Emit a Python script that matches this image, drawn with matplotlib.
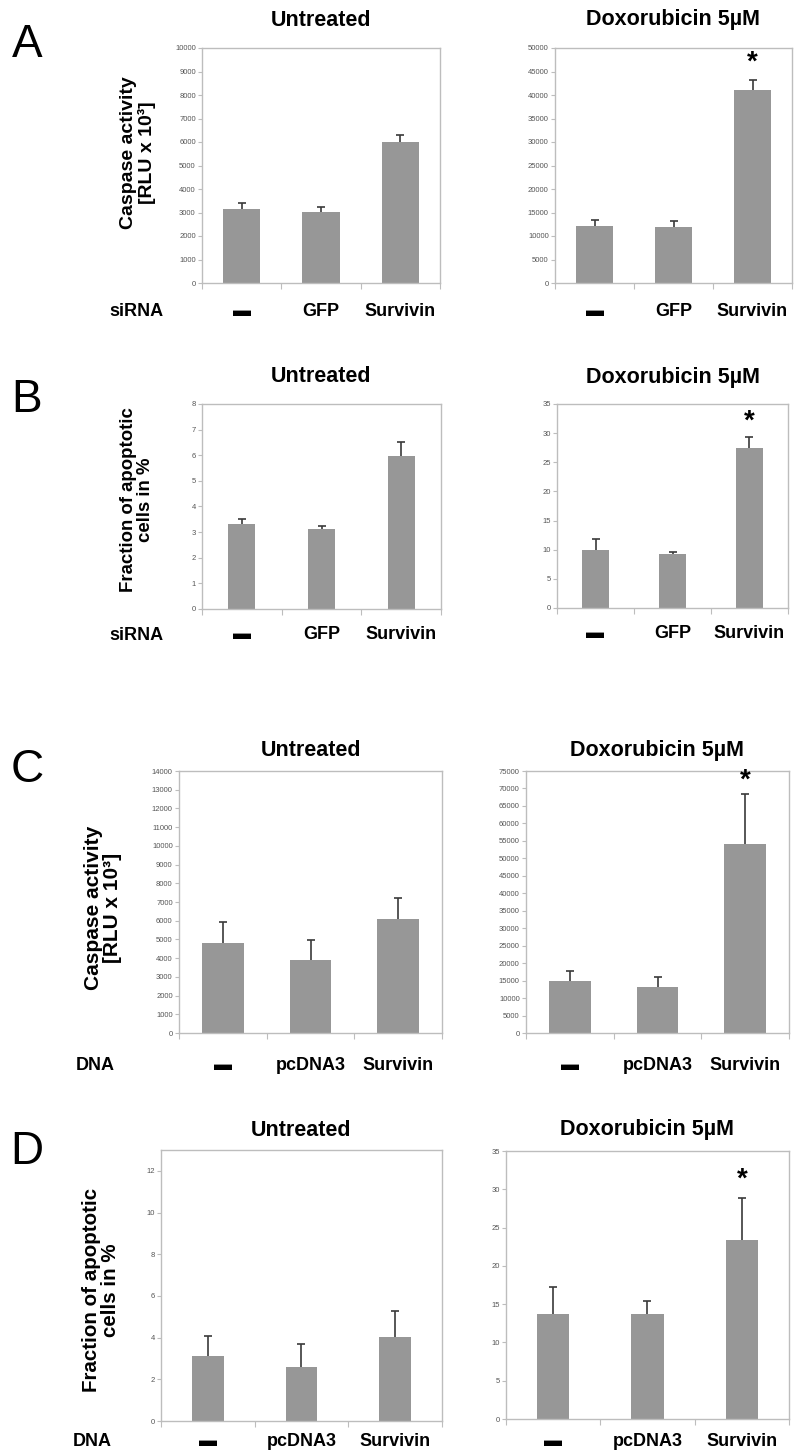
import numpy as np
import matplotlib
matplotlib.use("Agg")
import matplotlib.pyplot as plt
from matplotlib.transforms import ScaledTranslation

plt.rcParams['font.family'] = ['Liberation Sans', 'DejaVu Sans']

W, H = 807, 1454
DPI = 100

# data
sirna_labels = ['▬', 'GFP', 'Survivin']
dna_labels = ['▬', 'pcDNA3', 'Survivin']

a_untr = [3170, 3010, 5990]
a_untr_err = [215, 230, 295]
a_doxo = [12050, 11950, 40990]
a_doxo_err = [1400, 1150, 2260]

b_untr = [3.32, 3.14, 5.99]
b_untr_err = [0.20, 0.08, 0.54]
b_doxo = [9.9, 9.35, 27.4]
b_doxo_err = [2.0, 0.25, 2.0]

c_untr = [4800, 3900, 6070]
c_untr_err = [1150, 1080, 1120]
c_doxo = [14750, 13300, 54150]
c_doxo_err = [3050, 2600, 14350]

d_untr = [3.1, 2.6, 4.05]
d_untr_err = [1.0, 1.1, 1.25]
d_doxo = [13.7, 13.7, 23.4]
d_doxo_err = [3.5, 1.65, 5.5]

# star heights (significance markers)
a_star = 46800
b_star = 32
c_star = 72300
d_star = 31.2

BAR = '#979797'
SPINE = '#bdbdbd'
TICKC = '#555555'

fig = plt.figure(figsize=(W / DPI, H / DPI), dpi=DPI)


def px_axes(l, t, r, b):
    return fig.add_axes([l / W, 1 - b / H, (r - l) / W, (b - t) / H])


def ftext(x, y, s, **kw):
    fig.text(x / W, 1 - y / H, s, **kw)


def panel(box, vals, err, ymax, step, ylim, labels, width, title,
          lab_off, title_off, star=None):
    ax = px_axes(*box)
    x = np.arange(len(vals))
    ax.bar(x, vals, width=width, color=BAR, zorder=2)
    eb = ax.errorbar(x, vals, yerr=[np.zeros(len(err)), err], fmt='none',
                     ecolor='#3a3a3a', elinewidth=1.2, capsize=3.2, capthick=1.2,
                     zorder=3)
    # only the upper cap is drawn in the original
    for cl in eb[1]:
        if np.allclose(cl.get_ydata(), vals):
            cl.set_visible(False)
    ax.set_xlim(-0.5, len(vals) - 0.5)
    ax.set_ylim(0, ylim)
    ax.set_yticks(np.arange(0, ymax + step / 2, step))
    ax.set_xticks(np.arange(-0.5, len(vals)), labels=[''] * (len(vals) + 1))
    ax.tick_params(axis='x', length=4, color=SPINE, direction='out')
    ax.tick_params(axis='y', length=3, color=SPINE, direction='out',
                   labelsize=5.5, labelcolor=TICKC, pad=1.5)
    for sp in ax.spines.values():
        sp.set_color(SPINE)
        sp.set_linewidth(1.0)
    tr = ax.get_xaxis_transform() + ScaledTranslation(0, -lab_off / DPI, fig.dpi_scale_trans)
    for i, lab in enumerate(labels):
        ax.text(i, 0, lab, transform=tr, ha='center', va='center',
                fontsize=13, fontweight='bold')
    ttr = ax.transAxes + ScaledTranslation(0, title_off / DPI, fig.dpi_scale_trans)
    ax.text(0.5, 1, title, transform=ttr, ha='center', va='center',
            fontsize=15.5, fontweight='bold')
    if star is not None:
        ax.text(2, star, '*', ha='center', va='center', fontsize=20,
                fontweight='bold')
    return ax


# Panel A
panel((202, 48, 440, 283), a_untr, a_untr_err, 10000, 1000, 10000,
      sirna_labels, 0.47, 'Untreated', 29, 28)
panel((555, 48, 792, 283), a_doxo, a_doxo_err, 50000, 5000, 50000,
      sirna_labels, 0.46, 'Doxorubicin 5µM', 29, 28, a_star)
# Panel B
panel((202, 404, 441, 609), b_untr, b_untr_err, 8, 1, 8,
      sirna_labels, 0.34, 'Untreated', 26, 27)
panel((557, 404, 788, 608), b_doxo, b_doxo_err, 35, 5, 35,
      sirna_labels, 0.34, 'Doxorubicin 5µM', 26, 27, b_star)
# Panel C
panel((179, 771, 442, 1033), c_untr, c_untr_err, 14000, 1000, 14000,
      dna_labels, 0.475, 'Untreated', 32, 21)
panel((526, 771, 789, 1033), c_doxo, c_doxo_err, 75000, 5000, 75000,
      dna_labels, 0.475, 'Doxorubicin 5µM', 32, 21, c_star)
# Panel D
panel((161, 1150, 442, 1421), d_untr, d_untr_err, 12, 2, 13,
      dna_labels, 0.34, 'Untreated', 21, 20)
panel((506, 1151, 789, 1419), d_doxo, d_doxo_err, 35, 5, 35,
      dna_labels, 0.34, 'Doxorubicin 5µM', 23, 21, d_star)

# panel letters
for letter, (lx, ly) in zip('ABCD', [(27, 45), (27, 400), (27, 770), (27, 1152)]):
    ftext(lx, ly, letter, fontsize=33, ha='center', va='center')

# row labels
ftext(136, 312, 'siRNA', fontsize=13, fontweight='bold', ha='center', va='center')
ftext(136, 635, 'siRNA', fontsize=13, fontweight='bold', ha='center', va='center')
ftext(95, 1065, 'DNA', fontsize=13, fontweight='bold', ha='center', va='center')
ftext(92, 1442, 'DNA', fontsize=13, fontweight='bold', ha='center', va='center')

# y labels
ftext(138, 153, 'Caspase activity\n[RLU x 10³]', fontsize=14, fontweight='bold',
      rotation=90, ha='center', va='center', linespacing=1.05)
ftext(137, 500, 'Fraction of apoptotic\ncells in %', fontsize=13.4, fontweight='bold',
      rotation=90, ha='center', va='center', linespacing=1.05)
ftext(103, 908, 'Caspase activity\n[RLU x 10³]', fontsize=15, fontweight='bold',
      rotation=90, ha='center', va='center', linespacing=1.05)
ftext(101, 1290, 'Fraction of apoptotic\ncells in %', fontsize=14.8, fontweight='bold',
      rotation=90, ha='center', va='center', linespacing=1.05)

fig.savefig('out.png', dpi=DPI)
